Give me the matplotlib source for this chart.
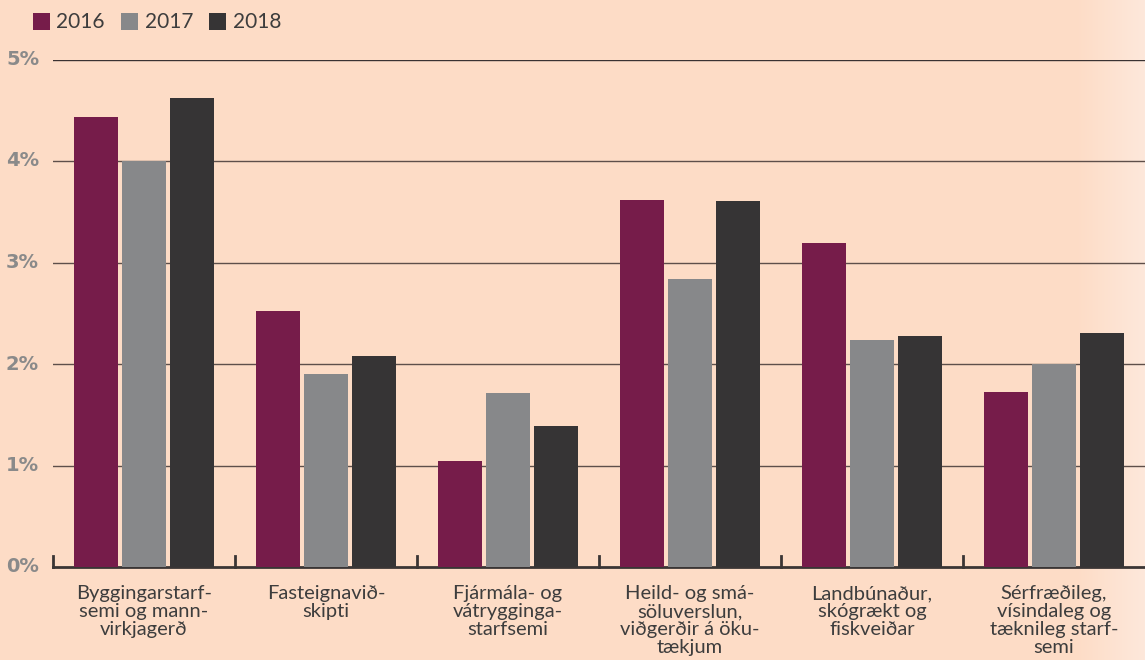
import numpy as np
import matplotlib.pyplot as plt

categories = ['Byggingarstarf-\nsemi og mann-\nvirkjagerð',
              'Fasteignavið-\nskipti',
              'Fjármála- og\nvátrygginga-\nstarfsemi',
              'Heild- og smá-\nsöluverslun,\nviðgerðir á öku-\ntækjum',
              'Landbúnaður,\nskógrækt og\nfiskveiðar',
              'Sérfræðileg,\nvísindaleg og\ntæknileg starf-\nsemi']
years = ['2016', '2017', '2018']
v2016 = [4.43, 2.52, 1.04, 3.62, 3.19, 1.72]
v2017 = [4.00, 1.90, 1.71, 2.84, 2.24, 2.00]
v2018 = [4.62, 2.08, 1.39, 3.61, 2.28, 2.31]
yticks = [0, 1, 2, 3, 4, 5]

colors = ['#761c4a', '#87888a', '#363435']
bg = '#fddcc6'

plt.rcParams['font.family'] = ['Lato', 'DejaVu Sans']

fig = plt.figure(figsize=(11.45, 6.6), dpi=100)
fig.patch.set_facecolor(bg)

# background with light fade at the right edge
bgax = fig.add_axes([0, 0, 1, 1], zorder=-10)
grad = np.ones(1145)
grad[1075:] = np.linspace(1, 0, 70)
c1 = np.array([0xfd, 0xdc, 0xc6]) / 255
c2 = np.array([0xfd, 0xe8, 0xdb]) / 255
img = c1[None, None, :] * grad[None, :, None] + c2[None, None, :] * (1 - grad[None, :, None])
bgax.imshow(img, aspect='auto', extent=[0, 1, 0, 1])
bgax.axis('off')

ax = fig.add_axes([53 / 1145, 93 / 660, 1 - 53 / 1145, 507.5 / 660])
ax.patch.set_alpha(0)

x = np.arange(len(categories)) + 0.5
w = 44 / 182
step = 48 / 182
for i, (vals, c, lab) in enumerate(zip([v2016, v2017, v2018], colors, years)):
    ax.bar(x + (i - 1) * step, vals, width=w, color=c, label=lab, zorder=3)

ax.set_xlim(0, 6)
ax.set_ylim(0, 5)

for t in yticks[1:]:
    ax.axhline(t, color='#3a3232' if t == 5 else '#5e4f4a', lw=1.0, zorder=1)

for s in ['top', 'right', 'left']:
    ax.spines[s].set_visible(False)
ax.spines['bottom'].set_color('#3a3535')
ax.spines['bottom'].set_linewidth(2)

ax.set_yticks(yticks)
ax.set_yticklabels([f'{t}%' for t in yticks], fontsize=14, fontweight='bold',
                   color='#8a8a8a', family='DejaVu Sans', va='center')
ax.tick_params(axis='y', length=0, pad=10)

ax.set_xticks(x)
ax.set_xticklabels(categories, fontsize=14.5, color='#3d3d3d', linespacing=1.08)
ax.tick_params(axis='x', length=0, pad=13)

# small upward separators between categories
for b in range(len(categories)):
    ax.plot([b, b], [0, 0.11], color='#3a3535', lw=2, zorder=4, clip_on=False)

leg = fig.legend(loc='upper left', bbox_to_anchor=(20 / 1145, 1.0), ncol=3, frameon=False,
                 fontsize=15, handlelength=0.85, handleheight=0.85, handletextpad=0.3,
                 columnspacing=0.75, borderaxespad=0.2)
for t in leg.get_texts():
    t.set_color('#3d3d3d')

fig.savefig('out.png', dpi=100, facecolor=bg)
